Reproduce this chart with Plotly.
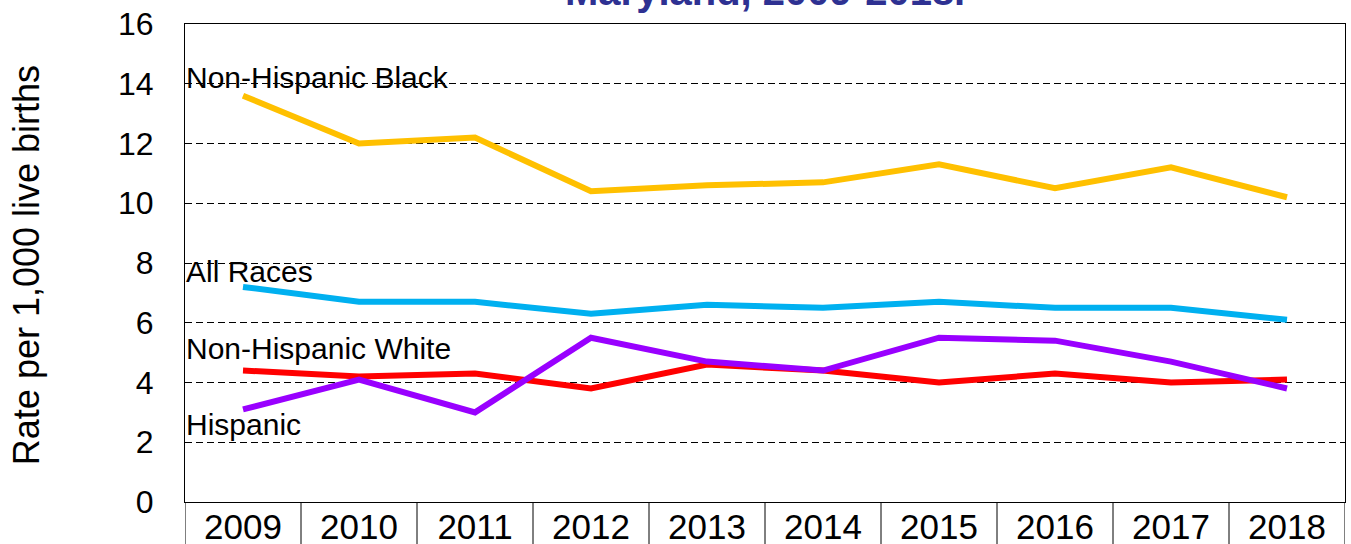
import plotly.graph_objects as go

years = ["2009", "2010", "2011", "2012", "2013", "2014", "2015", "2016", "2017", "2018"]
nh_black = [13.6, 12.0, 12.2, 10.4, 10.6, 10.7, 11.3, 10.5, 11.2, 10.2]
all_races = [7.2, 6.7, 6.7, 6.3, 6.6, 6.5, 6.7, 6.5, 6.5, 6.1]
nh_white = [4.4, 4.2, 4.3, 3.8, 4.6, 4.4, 4.0, 4.3, 4.0, 4.1]
hispanic = [3.1, 4.1, 3.0, 5.5, 4.7, 4.4, 5.5, 5.4, 4.7, 3.8]

series_names = ["Non-Hispanic Black", "All Races", "Non-Hispanic White", "Hispanic"]
series_values = [nh_black, all_races, nh_white, hispanic]
series_colors = ["#FFC000", "#00B0F0", "#FF0000", "#9900FF"]
label_y = [14.2, 7.7, 5.15, 2.6]

y_ticks = [0, 2, 4, 6, 8, 10, 12, 14, 16]

FONT = "Liberation Sans, Arial, sans-serif"

fig = go.Figure()
x_idx = list(range(len(years)))
for name, vals, col in zip(series_names, series_values, series_colors):
    fig.add_trace(go.Scatter(x=x_idx, y=vals, mode="lines", name=name,
                             line=dict(color=col, width=6), showlegend=False))

for name, ly in zip(series_names, label_y):
    fig.add_annotation(x=0, xref="paper", xshift=-1, y=ly, yref="y", text=name,
                       showarrow=False, xanchor="left", yanchor="middle",
                       font=dict(family=FONT, size=30, color="#000000"))

# category table dividers below the axis
for i in range(len(years) + 1):
    fig.add_shape(type="line", xref="x", yref="paper", x0=i - 0.5, x1=i - 0.5,
                  y0=0, y1=-0.2, line=dict(color="#000000", width=1))

# y axis title
fig.add_annotation(x=-0.136, xref="paper", y=0.496, yref="paper",
                   text="Rate per 1,000 live births", textangle=-90,
                   showarrow=False, xanchor="center", yanchor="middle",
                   font=dict(family=FONT, size=36, color="#000000"))

# title (partially cut off at top)
fig.add_annotation(x=0.5, xref="paper", y=1.0185, yref="paper",
                   text="<b>Maryland, 2009-2018.</b>", showarrow=False,
                   xanchor="center", yanchor="bottom",
                   font=dict(family=FONT, size=40, color="#2E3192"))

fig.update_layout(
    width=1351, height=544,
    margin=dict(l=185, r=6, t=24, b=42, autoexpand=False),
    paper_bgcolor="white", plot_bgcolor="white",
    font=dict(family=FONT, color="#000000"),
    xaxis=dict(range=[-0.5, 9.5], tickmode="array", tickvals=x_idx, ticktext=years,
               showgrid=False, zeroline=False, showline=True, linecolor="#000000",
               linewidth=1, mirror=True, ticks="", tickfont=dict(size=35),
               ticklabelstandoff=-6, automargin=False),
    yaxis=dict(range=[0, 16], tickmode="array", tickvals=y_ticks,
               showgrid=True, gridcolor="#000000", griddash="7px,4px", gridwidth=1,
               zeroline=False, showline=True, linecolor="#000000", linewidth=1,
               mirror=True, ticks="", tickfont=dict(size=32),
               ticklabelstandoff=24, automargin=False),
)

fig.write_html("out.html", config={"displayModeBar": False},
               post_script="document.body.style.margin='0';document.body.style.overflow='hidden';")
